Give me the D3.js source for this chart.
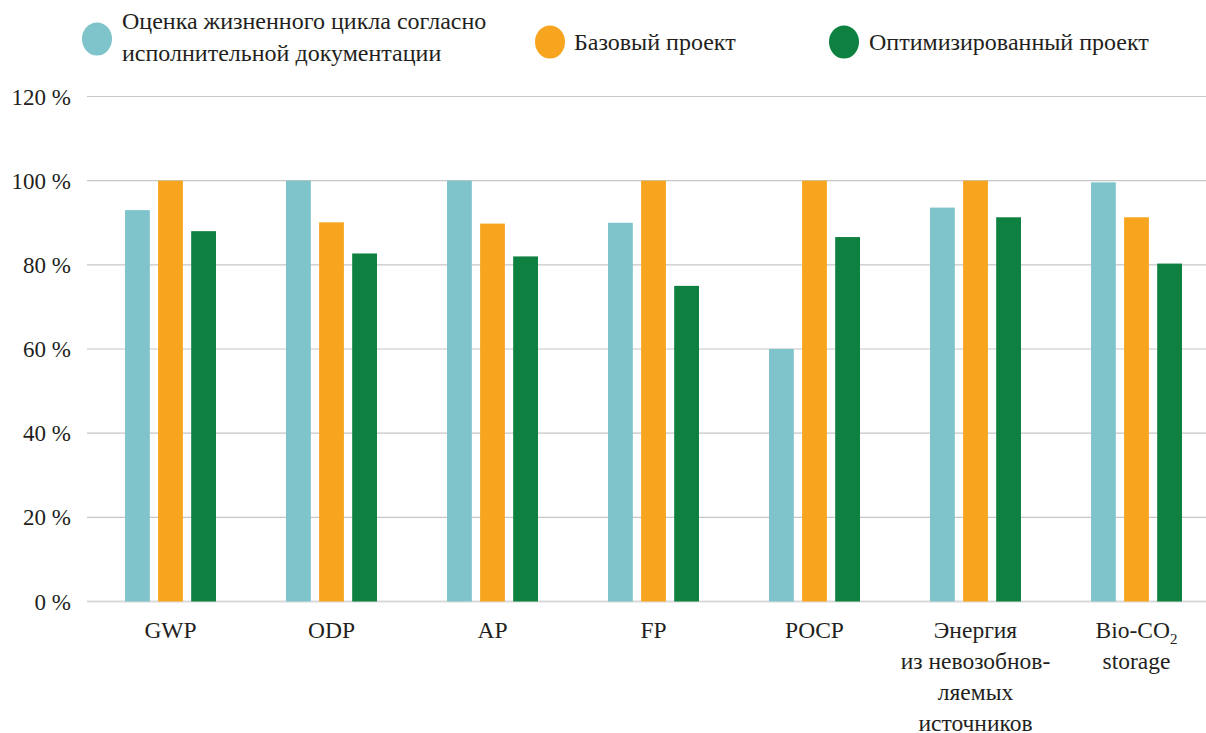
<!DOCTYPE html>
<html>
<head>
<meta charset="utf-8">
<script src="https://cdn.jsdelivr.net/npm/d3@7"></script>
<style>
  body { margin: 0; background: #fff; }
</style>
</head>
<body>
<div id="chart"></div>
<script>
const categories = ["GWP", "ODP", "AP", "FP", "POCP", "Energy", "Bio"];
const categoryLabels = [
  ["GWP"], ["ODP"], ["AP"], ["FP"], ["POCP"],
  ["Энергия", "из невозобнов-", "ляемых", "источников"],
  ["Bio-CO|2", "storage"]
];
const seriesNames = [
  ["Оценка жизненного цикла согласно", "исполнительной документации"],
  ["Базовый проект"],
  ["Оптимизированный проект"]
];
const lifecycle = [93, 100, 100, 90, 60, 93.6, 99.6];
const baseProject = [100, 90.1, 89.8, 100, 100, 100, 91.3];
const optimized = [88, 82.7, 82, 75, 86.6, 91.3, 80.3];
const yTicks = [0, 20, 40, 60, 80, 100, 120];
const colors = ["#7fc3cb", "#f7a51e", "#0e8040"];

const width = 1206, height = 733;
const series = [lifecycle, baseProject, optimized];
const serif = "'Liberation Serif'";

const svg = d3.select("#chart").append("svg")
  .attr("width", width)
  .attr("height", height);

const y = d3.scaleLinear().domain([0, 120]).range([601.5, 96.5]);
const x0 = d3.scaleBand().domain(categories).range([90, 1217]).paddingInner(0.435).paddingOuter(0.2175);
const x1 = d3.scaleBand().domain([0, 1, 2]).range([0, x0.bandwidth()]).paddingInner(0.25);

// grid
svg.append("g")
  .selectAll("line")
  .data(yTicks)
  .join("line")
  .attr("x1", 87)
  .attr("x2", width)
  .attr("y1", d => y(d))
  .attr("y2", d => y(d))
  .attr("stroke", d => d === 0 ? "#d9d9d9" : "#c6c6c6")
  .attr("stroke-width", d => d === 0 ? 2 : 1.2);

// y labels
svg.append("g")
  .selectAll("text")
  .data(yTicks)
  .join("text")
  .attr("x", 71)
  .attr("y", d => y(d) + 8)
  .attr("text-anchor", "end")
  .style("font-family", serif)
  .style("font-size", "23px")
  .attr("fill", "#231f20")
  .text(d => d + " %");

// bars
const groups = svg.append("g")
  .selectAll("g")
  .data(categories)
  .join("g")
  .attr("transform", d => `translate(${x0(d)},0)`);

groups.selectAll("rect")
  .data((d, i) => series.map((s, k) => ({ k, v: s[i] })))
  .join("rect")
  .attr("x", d => x1(d.k))
  .attr("width", x1.bandwidth())
  .attr("y", d => y(d.v))
  .attr("height", d => y(0) - y(d.v))
  .attr("fill", d => colors[d.k]);

// x labels
const xl = svg.append("g")
  .selectAll("text")
  .data(categories)
  .join("text")
  .attr("text-anchor", "middle")
  .style("font-family", serif)
  .style("font-size", "23.5px")
  .attr("fill", "#231f20")
  .attr("transform", d => `translate(${x0(d) + x0.bandwidth() / 2},0)`);

xl.each(function (d, i) {
  const t = d3.select(this);
  categoryLabels[i].forEach((line, j) => {
    const ts = t.append("tspan").attr("x", 0).attr("y", 638 + j * 31);
    if (line.includes("|")) {
      const [a, b] = line.split("|");
      ts.text(a);
      t.append("tspan").attr("dy", 6).style("font-size", "15px").text(b);
    } else {
      ts.text(line);
    }
  });
});

// legend
const legendPos = [
  { cx: 97, cy: 39, tx: 122, ty: 29 },
  { cx: 550, cy: 42, tx: 574, ty: 50 },
  { cx: 844, cy: 42, tx: 869, ty: 50 }
];
const legend = svg.append("g")
  .selectAll("g")
  .data(seriesNames)
  .join("g");

legend.append("ellipse")
  .attr("cx", (d, i) => legendPos[i].cx)
  .attr("cy", (d, i) => legendPos[i].cy)
  .attr("rx", 15)
  .attr("ry", 16.5)
  .attr("fill", (d, i) => colors[i]);

legend.append("text")
  .style("font-family", serif)
  .style("font-size", "24px")
  .attr("fill", "#231f20")
  .each(function (d, i) {
    const t = d3.select(this);
    d.forEach((line, j) => {
      t.append("tspan")
        .attr("x", legendPos[i].tx)
        .attr("y", legendPos[i].ty + j * 32)
        .text(line);
    });
  });
</script>
</body>
</html>
